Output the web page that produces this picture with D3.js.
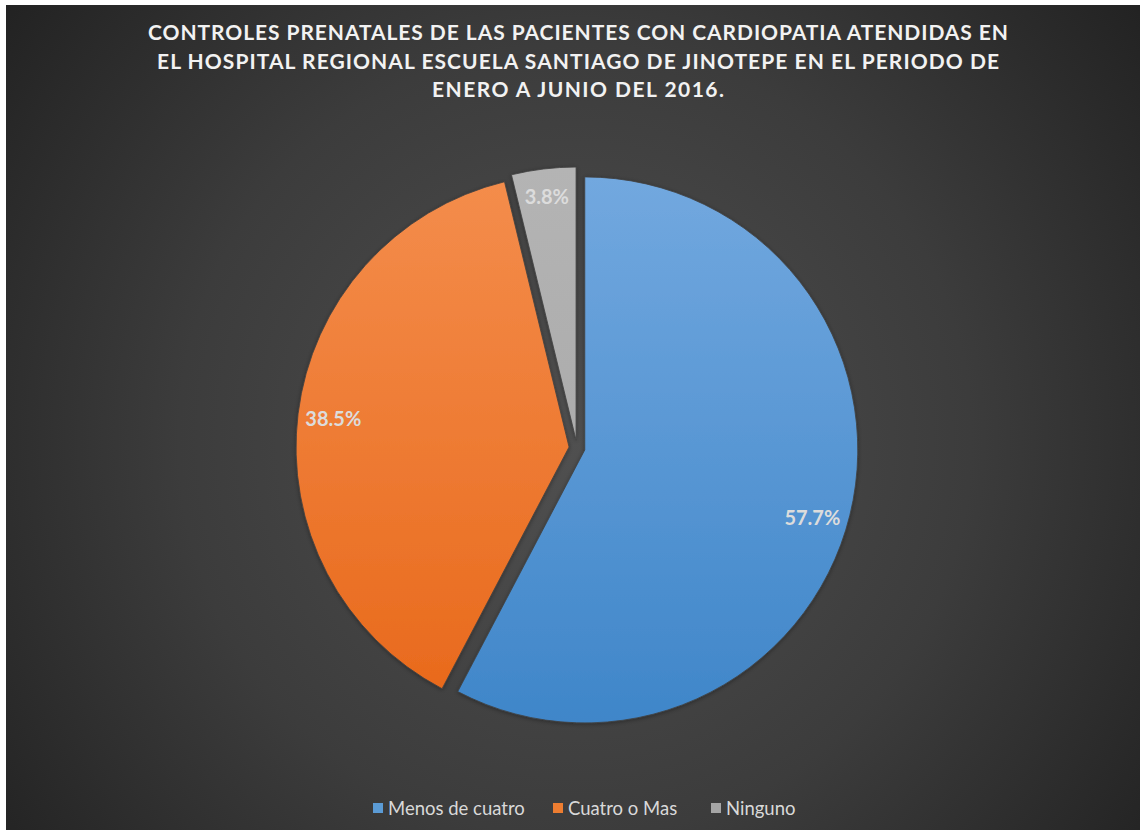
<!DOCTYPE html>
<html>
<head>
<meta charset="utf-8">
<script src="https://cdn.jsdelivr.net/npm/d3@7/dist/d3.min.js"></script>
<style>
  html, body { margin: 0; padding: 0; background: #ffffff; }
  svg { display: block; }
</style>
</head>
<body>
<svg id="chart" width="1140" height="830"></svg>
<script>
const titleLines = [
  "CONTROLES PRENATALES DE LAS PACIENTES CON CARDIOPATIA ATENDIDAS EN",
  "EL HOSPITAL REGIONAL ESCUELA SANTIAGO DE JINOTEPE EN EL PERIODO DE",
  "ENERO A JUNIO DEL 2016."
];
const categories = ["Menos de cuatro", "Cuatro o Mas", "Ninguno"];
const values = [57.7, 38.5, 3.8];
const labels = ["57.7%", "38.5%", "3.8%"];
const colorsTop = ["#72a8df", "#f48d4c", "#b4b4b4"];
const colorsBottom = ["#3f86c9", "#e8681a", "#a4a4a4"];
const legendColors = ["#5b9bd5", "#ed7d31", "#a5a5a5"];

const W = 1140, H = 830;
const svg = d3.select("#chart");
const defs = svg.append("defs");

// background
const bg = defs.append("radialGradient").attr("id", "bgGrad")
  .attr("gradientUnits", "userSpaceOnUse")
  .attr("cx", 575).attr("cy", 440).attr("r", 720);
bg.append("stop").attr("offset", "0%").attr("stop-color", "#505050");
bg.append("stop").attr("offset", "55%").attr("stop-color", "#3c3c3c");
bg.append("stop").attr("offset", "100%").attr("stop-color", "#222222");
svg.append("rect").attr("x", 6).attr("y", 5).attr("width", W - 6).attr("height", H - 5)
  .attr("fill", "url(#bgGrad)");

// title
const title = svg.append("g").attr("font-family", "Lato, sans-serif")
  .attr("font-weight", 700).attr("fill", "#f2f2f2").attr("font-size", 21)
  .attr("text-anchor", "middle");
const titleWidths = [860, 842, 292];
titleLines.forEach((t, i) => {
  title.append("text").attr("x", 578).attr("y", 40 + i * 28.5)
    .attr("textLength", titleWidths[i]).attr("lengthAdjust", "spacing")
    .text(t);
});

// pie
const cx = 577, cy = 448, R = 273, explode = 8;
const pie = d3.pie().sort(null).value(d => d)(values);
const arc = d3.arc().innerRadius(0).outerRadius(R);

const shadow = defs.append("filter").attr("id", "shadow")
  .attr("x", "-10%").attr("y", "-10%").attr("width", "120%").attr("height", "120%");
shadow.append("feDropShadow").attr("dx", 0).attr("dy", 1).attr("stdDeviation", 2)
  .attr("flood-color", "#000").attr("flood-opacity", 0.35);

pie.forEach((p, i) => {
  const g = defs.append("linearGradient").attr("id", "sg" + i)
    .attr("gradientUnits", "userSpaceOnUse")
    .attr("x1", 0).attr("y1", -R).attr("x2", 0).attr("y2", R);
  g.append("stop").attr("offset", "0%").attr("stop-color", colorsTop[i]);
  g.append("stop").attr("offset", "100%").attr("stop-color", colorsBottom[i]);
});

const slices = svg.append("g");
pie.forEach((p, i) => {
  const mid = (p.startAngle + p.endAngle) / 2;
  const dx = Math.sin(mid) * explode, dy = -Math.cos(mid) * explode;
  const g = slices.append("g").attr("transform", `translate(${cx + dx},${cy + dy})`);
  g.append("path").attr("d", arc(p)).attr("fill", `url(#sg${i})`)
    .attr("stroke", "#404040").attr("stroke-width", 0.8)
    .attr("filter", "url(#shadow)");
  const lr = i === 2 ? R * 0.9 : R * 0.87;
  const lx = Math.sin(mid) * lr, ly = -Math.cos(mid) * lr;
  g.append("text").attr("x", lx - (i === 0 ? 3 : 0)).attr("y", ly + (i === 0 ? 10 : 0))
    .attr("text-anchor", "middle").attr("dominant-baseline", "central")
    .attr("font-family", "Lato, sans-serif").attr("font-weight", 700)
    .attr("font-size", 20).attr("fill", "#dcdcdc").text(labels[i]);
});

// legend
const legendX = [373, 553, 711];
const legend = svg.append("g").attr("font-family", "Lato, sans-serif")
  .attr("font-size", 18.5).attr("fill", "#d9d9d9");
categories.forEach((c, i) => {
  legend.append("rect").attr("x", legendX[i]).attr("y", 803).attr("width", 10).attr("height", 10)
    .attr("fill", legendColors[i]);
  legend.append("text").attr("x", legendX[i] + 15).attr("y", 808)
    .attr("dominant-baseline", "central").text(c);
});
</script>
</body>
</html>
